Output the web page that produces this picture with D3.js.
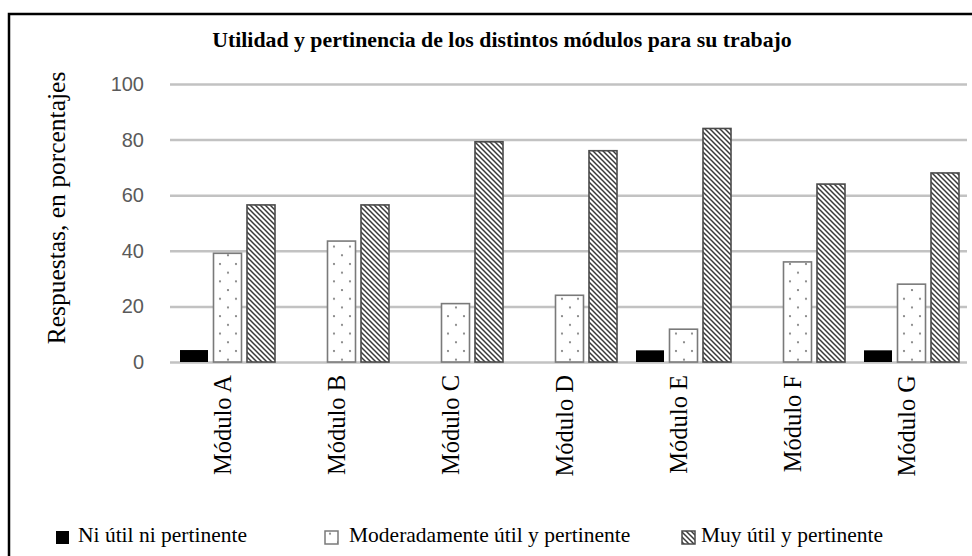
<!DOCTYPE html>
<html>
<head>
<meta charset="utf-8">
<script src="https://cdn.jsdelivr.net/npm/d3@7"></script>
<style>
  html, body { margin: 0; padding: 0; background: #fff; }
  svg { display: block; }
</style>
</head>
<body>
<div id="chart"></div>
<script>
// Data (percent of answers)
const modules = ["Módulo A", "Módulo B", "Módulo C", "Módulo D", "Módulo E", "Módulo F", "Módulo G"];
const seriesNames = ["Ni útil ni pertinente", "Moderadamente útil y pertinente", "Muy útil y pertinente"];
const niUtil = [4.3, 0, 0, 0, 4.2, 0, 4.2];
const moderado = [39.1, 43.5, 21, 24, 11.8, 36, 28];
const muyUtil = [56.5, 56.5, 79.2, 76, 84, 64, 68];
const yTicks = [0, 20, 40, 60, 80, 100];

const W = 972, H = 556;
const x0Range = [170, 968];
const yRange = [362, 84];

const svg = d3.select("#chart").append("svg")
  .attr("width", W)
  .attr("height", H);

const defs = svg.append("defs");

// hatched pattern (diagonal "\")
const hatch = defs.append("pattern")
  .attr("id", "hatch")
  .attr("patternUnits", "userSpaceOnUse")
  .attr("width", 5)
  .attr("height", 5);
hatch.append("rect").attr("width", 5).attr("height", 5).attr("fill", "#fff");
hatch.append("path")
  .attr("d", "M0,0 L5,5 M-1,4 L1,6 M4,-1 L6,1")
  .attr("stroke", "#3a3a3a")
  .attr("stroke-width", 1.5);

// dotted pattern
const dots = defs.append("pattern")
  .attr("id", "dots")
  .attr("patternUnits", "userSpaceOnUse")
  .attr("width", 16)
  .attr("height", 17.4);
dots.append("rect").attr("width", 16).attr("height", 17.4).attr("fill", "#fff");
dots.append("circle").attr("cx", 2).attr("cy", 3).attr("r", 1.1).attr("fill", "#7a7a7a");
dots.append("circle").attr("cx", 10).attr("cy", 11.7).attr("r", 1.1).attr("fill", "#7a7a7a");

const fills = ["#000", "url(#dots)", "url(#hatch)"];
const strokes = ["#000", "#7a7a7a", "#4a4a4a"];

// frame (top + left only)
svg.append("path")
  .attr("d", `M9,${H} L9,14 L${W},14`)
  .attr("fill", "none")
  .attr("stroke", "#000")
  .attr("stroke-width", 2.5);

// title
svg.append("text")
  .attr("x", 502)
  .attr("y", 47)
  .attr("text-anchor", "middle")
  .attr("font-family", "'Liberation Serif', 'Times New Roman', serif")
  .attr("font-weight", "bold")
  .attr("font-size", 21.8)
  .text("Utilidad y pertinencia de los distintos módulos para su trabajo");

// scales
const x0 = d3.scaleBand().domain(modules).range(x0Range).paddingInner(0).paddingOuter(0);
const x1 = d3.scaleBand().domain(seriesNames).range([10, 105]).paddingInner(0.164);
const y = d3.scaleLinear().domain([0, 100]).range(yRange);

// y axis with gridlines
const yAxisG = svg.append("g")
  .attr("transform", `translate(${x0Range[0]},0)`)
  .call(d3.axisLeft(y).tickValues(yTicks).tickSizeInner(-(x0Range[1] - x0Range[0] - 1)).tickSizeOuter(0).tickPadding(26));
yAxisG.select(".domain").remove();
yAxisG.selectAll(".tick line")
  .attr("stroke", "#c2c2c2")
  .attr("stroke-width", 2.5);
yAxisG.selectAll(".tick text")
  .attr("font-family", "'Liberation Sans', Arial, sans-serif")
  .attr("font-size", 20)
  .attr("fill", "#5a5a5a");

// y axis title
svg.append("text")
  .attr("transform", "translate(65,208) rotate(-90)")
  .attr("text-anchor", "middle")
  .attr("font-family", "'Liberation Serif', 'Times New Roman', serif")
  .attr("font-size", 25.5)
  .text("Respuestas, en porcentajes");

// bars
const rows = modules.map((m, i) => ({
  module: m,
  values: [niUtil[i], moderado[i], muyUtil[i]]
}));

const groups = svg.append("g").selectAll("g")
  .data(rows)
  .join("g")
  .attr("transform", d => `translate(${x0(d.module)},0)`);

groups.selectAll("rect")
  .data(d => d.values.map((v, k) => ({ key: seriesNames[k], k: k, value: v })).filter(e => e.value > 0))
  .join("rect")
  .attr("x", d => x1(d.key))
  .attr("width", x1.bandwidth())
  .attr("y", d => y(d.value))
  .attr("height", d => y(0) - y(d.value))
  .attr("fill", d => fills[d.k])
  .attr("stroke", d => strokes[d.k])
  .attr("stroke-width", d => d.k === 0 ? 0 : 1.6);

// x axis labels
const xAxisG = svg.append("g")
  .attr("transform", `translate(0,${y(0)})`)
  .call(d3.axisBottom(x0).tickSize(0).tickPadding(0));
xAxisG.select(".domain").remove();
xAxisG.selectAll(".tick text")
  .attr("transform", "translate(4,13) rotate(-90)")
  .attr("text-anchor", "end")
  .attr("x", 0)
  .attr("y", 0)
  .attr("dy", 0)
  .attr("font-family", "'Liberation Serif', 'Times New Roman', serif")
  .attr("font-size", 24.5)
  .attr("fill", "#000");

// legend
const legendX = [56, 325, 682];
const legendTextX = [78, 349, 701];
const legend = svg.append("g").selectAll("g")
  .data(seriesNames)
  .join("g");

legend.append("rect")
  .attr("x", (d, i) => legendX[i])
  .attr("y", 531)
  .attr("width", 13)
  .attr("height", 13)
  .attr("fill", (d, i) => fills[i])
  .attr("stroke", (d, i) => strokes[i])
  .attr("stroke-width", (d, i) => i === 0 ? 0 : 1.5);

legend.append("text")
  .attr("x", (d, i) => legendTextX[i])
  .attr("y", 542)
  .attr("font-family", "'Liberation Serif', 'Times New Roman', serif")
  .attr("font-size", 21.5)
  .text(d => d);
</script>
</body>
</html>
